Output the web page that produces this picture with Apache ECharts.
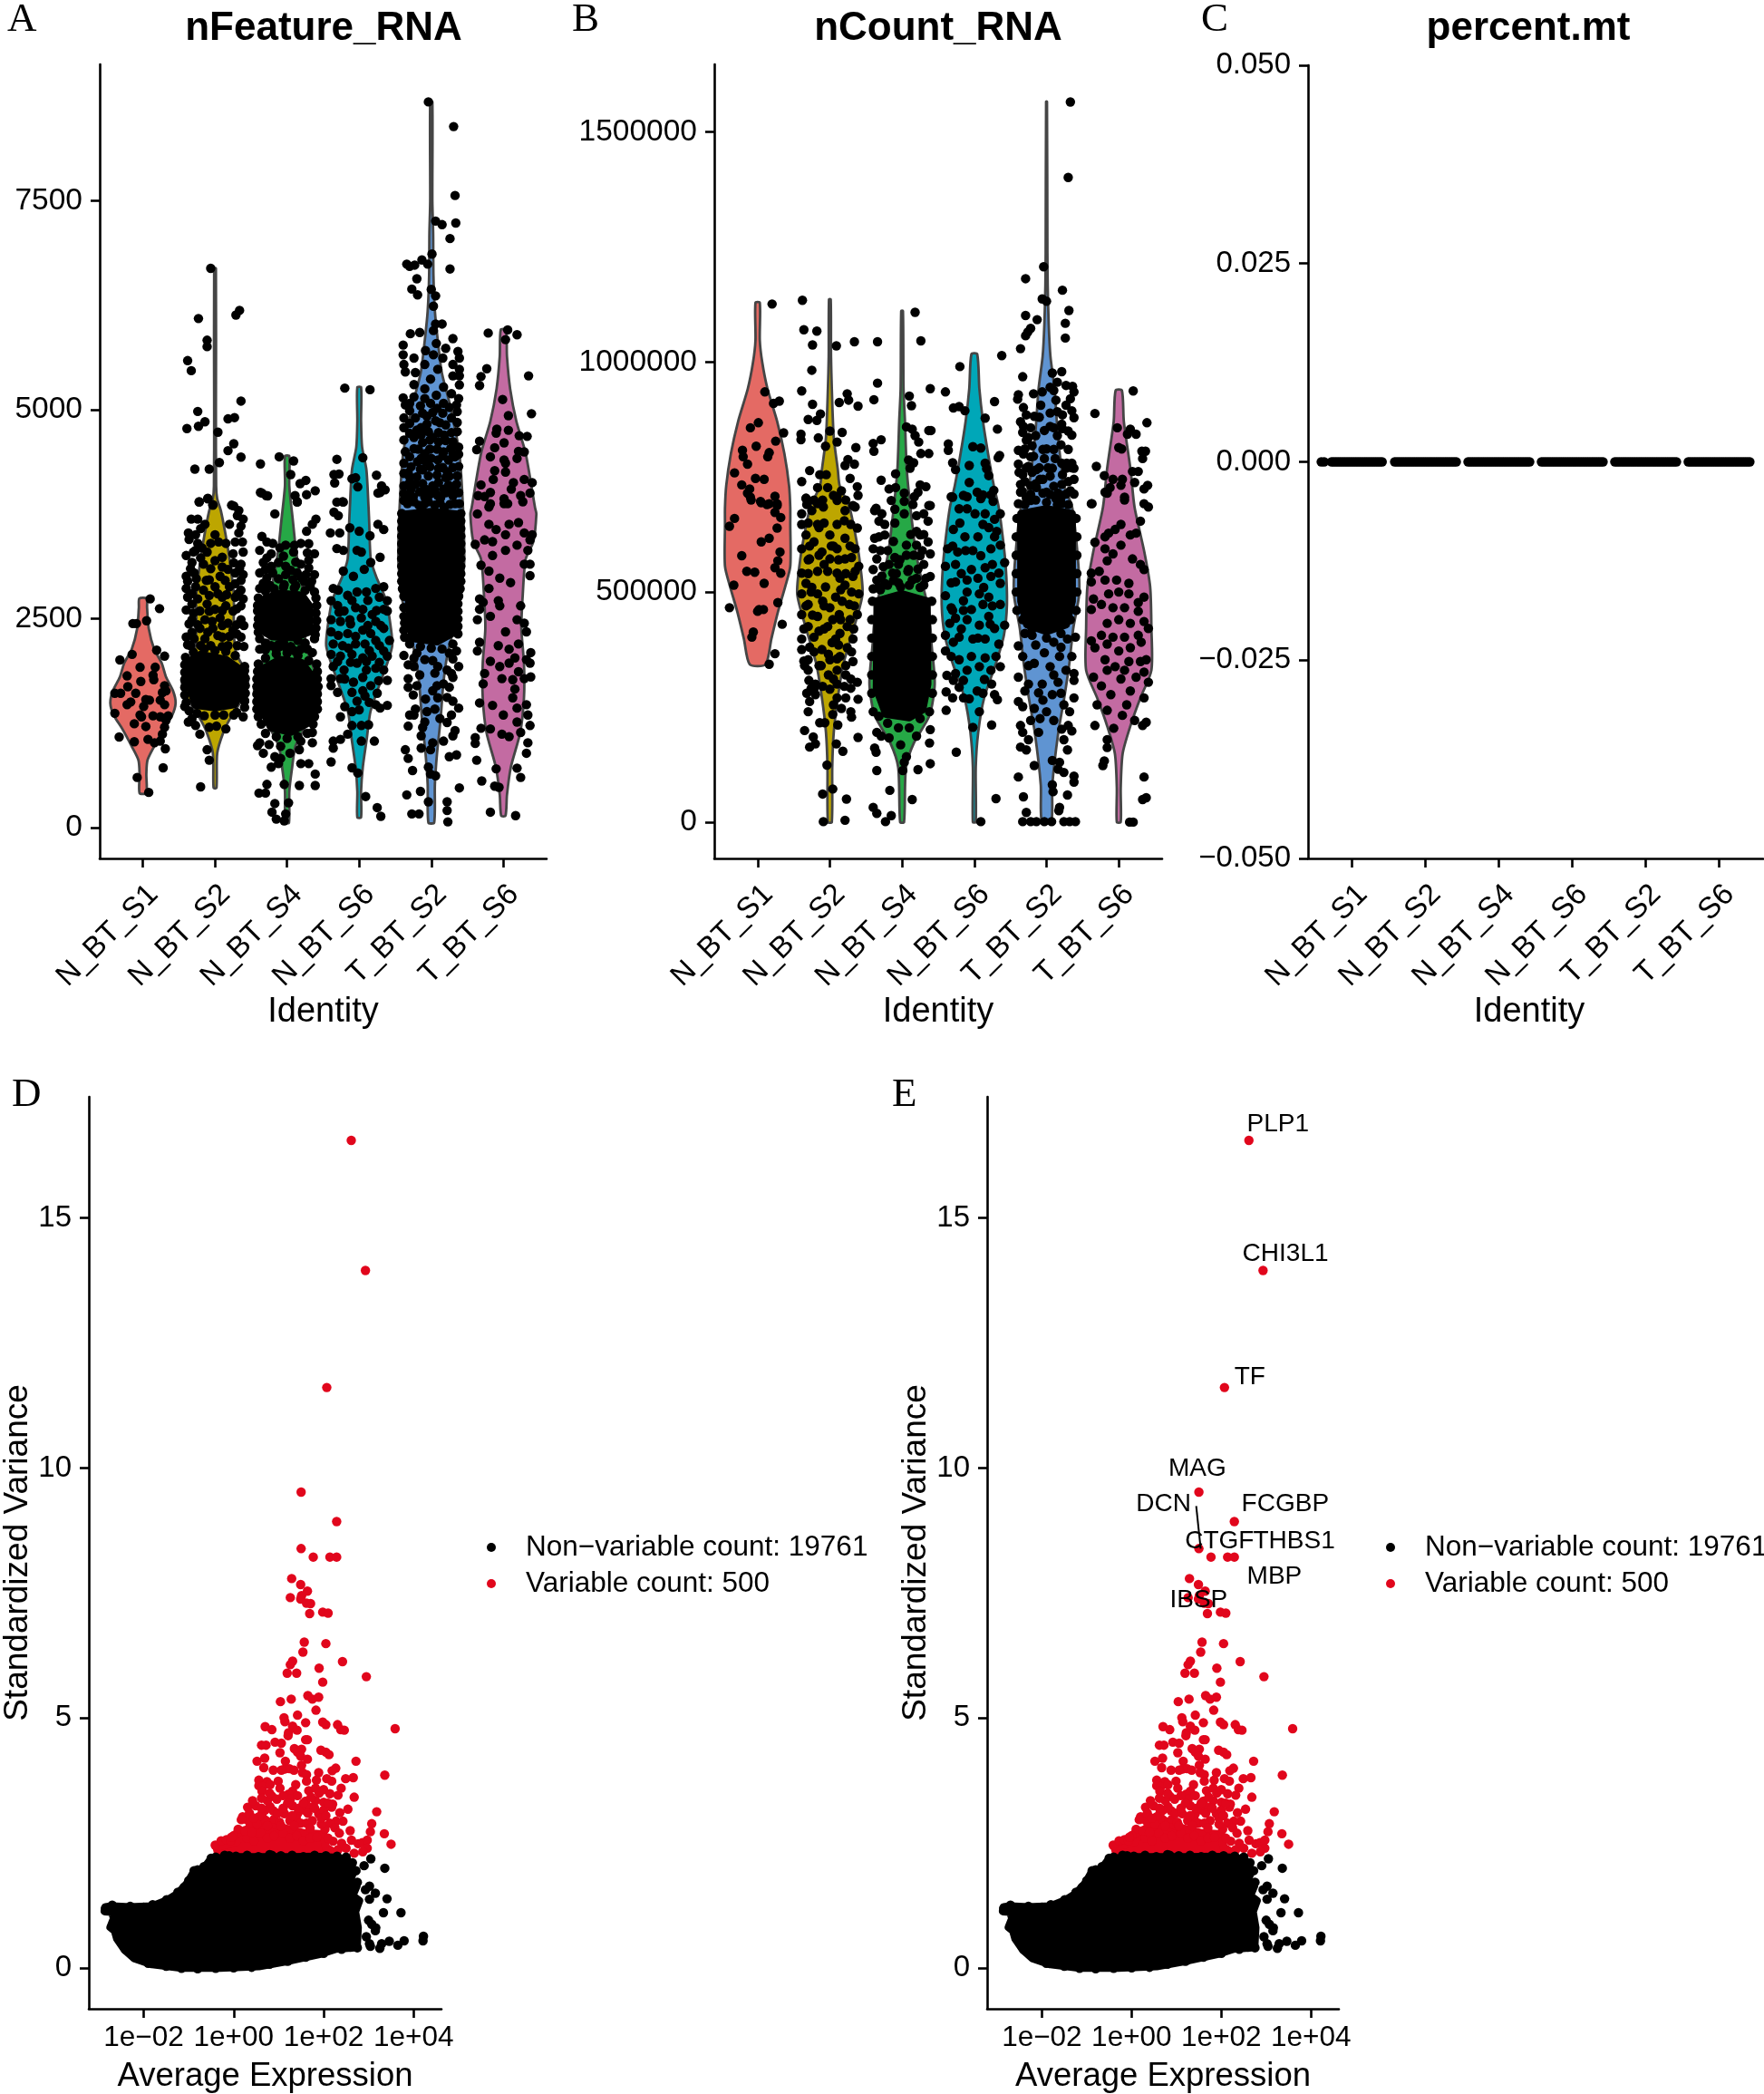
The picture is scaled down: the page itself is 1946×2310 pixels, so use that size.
<!DOCTYPE html>
<html><head><meta charset="utf-8">
<style>html,body{margin:0;padding:0;background:#fff}#c{width:1946px;height:2310px}</style>
<script src="https://cdn.jsdelivr.net/npm/echarts@6/dist/echarts.min.js"></script>
</head><body><div id="c"></div>
<script>
const categories=['N_BT_S1','N_BT_S2','N_BT_S4','N_BT_S6','T_BT_S2','T_BT_S6'];
const violinColors=['#E46A64','#BDA600','#26A846','#00A7B8','#5F94D2','#C36BA2'];
const ticksFeature=[0,2500,5000,7500];
const ticksCount=[0,500000,1000000,1500000];
const ticksMt=[-0.05,-0.025,0,0.025,0.05];
const ticksVar=[0,5,10,15];
const ticksLogExpr=[-2,0,2,4];

// violin outlines, top to bottom: [value, half width in category units]
const vA1=[[2743,.05],[2636,.057],[2386,.08],[2137,.156],[1971,.26],[1805,.32],[1639,.417],[1494,.453],[1349,.406],[1183,.286],[975,.156],[809,.0625],[643,.047],[415,.047]];
const vA2=[[6694,.012],[5000,.012],[4090,.015],[3936,.03],[3797,.08],[3507,.146],[3216,.2],[2801,.26],[2386,.26],[2096,.29],[1847,.44],[1722,.458],[1556,.39],[1307,.21],[1141,.115],[892,.03],[477,.02]];
const vA3=[[4447,.03],[4091,.03],[3673,.08],[3382,.115],[3133,.156],[2884,.21],[2594,.23],[2179,.26],[1930,.36],[1681,.458],[1473,.42],[1224,.26],[975,.115],[726,.07],[436,.03],[62,.026]];
const vA4=[[5269,.026],[4866,.026],[4556,.04],[4285,.1],[3827,.13],[3631,.14],[3216,.16],[3009,.234],[2718,.375],[2386,.44],[2179,.458],[1971,.39],[1722,.286],[1390,.156],[1058,.104],[726,.05],[436,.026],[125,.026]];
const vA5=[[8686,.015],[7500,.015],[7113,.026],[6609,.03],[6183,.05],[5834,.09],[5447,.146],[5059,.26],[4478,.39],[3827,.44],[3216,.458],[3009,.44],[2760,.41],[2386,.31],[2054,.22],[1722,.167],[1307,.13],[892,.08],[519,.05],[62,.04]];
const vA6=[[5958,.036],[5640,.05],[5253,.094],[4866,.18],[4478,.31],[3827,.44],[3756,.458],[3424,.417],[3216,.31],[2801,.27],[2386,.25],[1971,.286],[1556,.286],[1141,.234],[726,.104],[394,.05],[145,.03]];
// nCount violins, values in thousands
const vB1=[[1129,.03],[1047,.03],[998,.065],[942,.136],[871,.27],[801,.37],[731,.435],[683,.452],[647,.452],[556,.452],[511,.38],[458,.283],[398,.19],[343,.11]];
const vB2=[[1136,.012],[1012,.016],[942,.027],[836,.054],[766,.11],[731,.136],[685,.27],[624,.354],[571,.41],[496,.452],[421,.33],[345,.19],[270,.11],[195,.054],[119,.033],[0,.027]];
const vB3=[[1111,.012],[942,.02],[871,.04],[766,.065],[677,.12],[587,.19],[526,.27],[458,.37],[383,.41],[300,.452],[232,.38],[172,.163],[119,.054],[0,.027]];
const vB4=[[1017,.04],[942,.07],[871,.12],[801,.19],[731,.27],[685,.337],[624,.39],[556,.435],[473,.452],[406,.41],[345,.3],[270,.136],[195,.054],[119,.02],[0,.02]];
const vB5=[[1566,.006],[1237,.012],[1167,.016],[1082,.03],[1012,.054],[942,.11],[836,.16],[731,.245],[685,.354],[571,.435],[496,.452],[421,.37],[345,.316],[270,.245],[195,.163],[81,.08],[0,.065]];
const vB6=[[938,.044],[871,.07],[766,.163],[685,.218],[587,.354],[511,.435],[421,.452],[330,.452],[270,.3],[210,.163],[149,.054],[74,.027],[0,.027]];

// jittered cells: [offset from category centre, value]
const jA1=[[.10,2739],[.23,2623],[-.14,2444],[-.09,2444],[.05,2478],[.19,2125],[.30,2054],[-.32,2009],[-.15,2075],[-.04,1921],[.17,1921],[-.22,1818],[.14,1826],[.15,1772],[-.03,1751],[-.21,1689],[.30,1701],[-.39,1610],[-.31,1610],[-.10,1610],[.27,1618],[.32,1639],[.04,1535],[.09,1527],[-.17,1506],[-.22,1473],[.24,1527],[.01,1452],[.30,1473],[-.39,1370],[-.04,1349],[-.02,1328],[.14,1340],[.24,1328],[.35,1340],[.32,1287],[-.12,1245],[.04,1212],[.30,1203],[.27,1120],[-.33,1087],[-.12,1029],[.07,1058],[.16,1017],[.24,1037],[.31,946],[.28,718],[-.08,602],[.08,423]];
const jA2=[[-.06,6694],[-.23,6094],[.29,6136],[.34,6191],[-.11,5834],[-.11,5757],[-.38,5590],[-.33,5470],[.36,5106],[-.24,4982],[-.39,4777],[-.23,4804],[-.14,4858],[.18,4893],[.27,4908],[.04,4734],[.26,4595],[.18,4513],[.36,4436],[.06,4370],[-.28,4292],[-.08,4292],[-.10,3936],[-.22,3897],[-.03,3866],[.26,3851],[-.22,3901],[-.10,3942],[-.03,3860],[.23,3860],[.33,3797],[.31,3735],[.39,3694],[-.33,3694],[-.24,3694],[-.14,3631],[.20,3631],[.36,3610],[-.37,3528],[-.27,3507],[0,3507],[.33,3528],[-.24,3403],[-.06,3403],[.15,3403],[.39,3299],[-.40,3258],[-.27,3320],[-.11,3299],[.25,3279],[.10,3237],[.36,3154],[-.32,3175],[-.16,3154],[0,3196],[-.40,3009],[-.29,3050],[.18,3092],[.28,3050],[.39,3030],[-.08,2967],[.07,3009],[-.40,2864],[-.27,2884],[-.16,2843],[0,2884],[.20,2884],[.36,2843],[-.38,2760],[-.24,2739],[.10,2760],[.28,2760],[.39,2739],[-.32,2677],[-.11,2677],[.15,2656],[.36,2656],[-.40,2606],[-.21,2594],[0,2614],[.25,2594],[-.32,2490],[-.14,2490],[.07,2511],[.18,2448],[.36,2490],[-.21,2386],[-.03,2386],[.25,2365],[-.40,2282],[-.29,2262],[-.14,2262],[.10,2282],[.36,2282],[-.34,2179],[-.06,2179],[.18,2179],[.31,2179],[-.37,1266],[-.27,1224],[-.21,1120],[-.08,1203],[.02,1216],[.15,1183],[.26,1349],[.39,1328],[-.11,934],[-.08,809],[-.20,490],[-.32,1307],[-.42,1452],[.41,1515],[-.40,1971],[.41,1930]];
const xA2=[[-.36,3450],[-.2,3580],[-.3,3300],[-.18,3350],[.05,3420],[.28,3420],[.38,3420],[-.34,3100],[-.2,3230],[-.06,3100],[.1,3120],[.26,3170],[.34,3100],[-.38,2950],[-.26,2980],[-.12,2960],[.14,2960],[.28,2920],[.36,2960],[-.32,2800],[-.08,2780],[.04,2800],[.16,2790],[.32,2800],[-.3,2570],[-.08,2590],[.1,2600],[.3,2620],[-.36,2440],[-.24,2430],[-.04,2470],[.1,2420],[.3,2430],[.4,2420],[-.32,2340],[-.1,2340],[.04,2300],[.2,2290],[.3,2320],[-.38,2190],[-.2,2180],[.1,2170],[.4,2170],[-.41,2040],[-.42,1950],[-.42,1860],[-.42,1770],[-.42,1680],[-.42,1590],[-.4,1500],[.41,1880],[.42,1790],[.42,1700],[.42,1610],[.41,1520],[.41,1440],[-.36,1400],[-.25,1370],[-.15,1340],[0,1350],[.12,1350],[.3,1380],[-.3,2100],[-.15,2140],[0,2120],[.15,2110],[.28,2060]];
const jA3=[[-.11,4439],[.09,4389],[-.37,4354],[.05,4227],[.26,4157],[.18,4118],[.39,4033],[-.37,4013],[-.29,3975],[.27,3986],[.11,3975],[.14,3897],[-.35,4005],[-.27,3972],[.14,3901],[-.17,3756],[.40,3694],[.35,3631],[.27,3548],[-.35,3486],[-.20,3403],[-.02,3382],[.19,3403],[-.38,3320],[-.22,3279],[.09,3299],[.38,3279],[-.33,3175],[-.12,3175],[.19,3154],[-.38,3050],[-.20,3050],[-.02,3030],[.38,3030],[-.33,2926],[.24,2946],[-.38,2864],[.38,2822],[-.41,2594],[-.38,2262],[.38,2262],[-.38,2137],[-.22,2179],[.19,2137],[.35,2096],[-.38,1017],[-.25,996],[-.09,975],[.19,1037],[.35,1141],[.35,1017],[-.41,984],[-.33,892],[-.17,851],[.04,892],[.17,934],[-.22,726],[-.12,768],[.19,768],[.30,768],[-.28,519],[-.39,415],[-.30,415],[-.04,519],[.17,506],[.39,643],[.39,506],[-.17,290],[-.21,187],[-.15,104],[-.04,83],[-.02,166],[.02,299],[-.09,830]];
const xA3=[[-.28,3420],[-.1,3350],[.1,3380],[.3,3400],[-.28,3230],[-.05,3250],[.28,3290],[.3,3200],[-.22,3130],[-.02,3130],[.12,3180],[.3,3110],[.05,3080],[-.3,3090],[.14,3050],[.26,3030],[-.28,2990],[-.12,2980],[.08,2970],[.2,2990],[.34,2950],[-.24,2900],[-.04,2910],[.12,2900],[.32,2890],[-.4,2750],[-.41,2660],[-.4,2500],[-.41,2420],[-.4,2340],[.4,2750],[.41,2660],[.4,2570],[.41,2480],[.4,2390],[.39,2310],[-.3,2830],[-.18,2860],[-.05,2880],[.1,2870],[.25,2840],[-.3,2210],[-.12,2190],[.05,2170],[.25,2210],[-.4,1960],[-.41,1870],[-.42,1780],[-.42,1690],[-.42,1600],[-.42,1510],[-.42,1420],[-.4,1330],[-.36,1240],[.41,1960],[.42,1870],[.42,1780],[.43,1690],[.42,1600],[.42,1510],[.42,1420],[.38,1330],[.36,1240],[-.3,2030],[-.15,2080],[0,2090],[.15,2060],[.3,2000],[-.3,1130],[-.15,1090],[0,1070],[.15,1090],[.28,1130],[-.1,2170],[-.3,2130],[-.15,2130],[0,2130],[.1,2120],[.28,2140],[-.05,2220],[.15,2240]];
const jA4=[[-.20,5261],[.15,5242],[-.31,4409],[.05,4428],[.24,4219],[-.35,4227],[-.28,4234],[-.10,4176],[-.05,4188],[-.34,4126],[-.02,4079],[.31,4091],[.29,4013],[.36,4044],[-.31,3897],[-.22,3897],[.26,4005],[-.23,3901],[-.35,3777],[-.29,3735],[.26,3631],[.34,3569],[-.13,3590],[-.40,3528],[-.27,3528],[0,3548],[.15,3494],[-.31,3341],[-.22,3320],[-.03,3320],[.29,3237],[.03,3299],[.16,3175],[-.22,3071],[-.08,3009],[.07,3092],[-.36,2864],[-.29,2843],[-.16,2781],[-.03,2822],[.10,2822],[.23,2864],[.34,2884],[.39,2718],[.34,2614],[-.39,2718],[-.21,2594],[-.05,2635],[.05,2614],[.18,2552],[-.39,2490],[-.26,2469],[-.13,2490],[.03,2511],[.23,2469],[.39,2594],[.05,2365],[-.39,2345],[-.29,2303],[-.16,2324],[.34,2386],[.16,2324],[-.36,2200],[-.23,2179],[-.05,2200],[.08,2200],[.23,2241],[.42,2241],[.34,2116],[-.39,2075],[-.26,2054],[-.10,2075],[.05,2033],[.18,2054],[.39,2054],[-.36,1930],[-.21,1888],[-.03,1971],[.10,1888],[.23,1909],[.34,1888],[-.39,1785],[-.26,1785],[-.08,1743],[.16,1701],[.39,1764],[-.39,1701],[.05,1639],[.08,1577],[-.03,1515],[.23,1473],[.39,1465],[.29,1432],[-.10,1390],[0,1411],[-.26,1328],[.03,1224],[.13,1233],[-.10,1224],[-.36,1037],[-.26,1058],[-.16,1120],[.03,1037],[.21,1037],[-.36,954],[-.39,788],[-.10,718],[-.02,656],[.09,374],[.25,241],[.30,137]];
const xA4=[[-.3,2660],[-.1,2720],[.12,2720],[.28,2760],[-.28,2580],[.24,2600],[-.12,2440],[.12,2420],[.3,2420],[-.05,2290],[.28,2180],[-.15,2150],[.14,2120],[-.3,1990],[-.12,1980],[.1,1990],[.28,1980],[-.2,1780],[.05,1800],[.27,1760],[-.3,1620],[-.1,1620],[.25,1610],[-.2,1450],[.14,1500]];
const jA5=[[-.04,8686],[.31,8391],[.33,7566],[.06,7260],[.15,7217],[.34,7237],[.26,7051],[.01,6865],[-.13,6795],[-.34,6745],[-.30,6718],[-.23,6733],[-.05,6745],[.26,6687],[-.20,6570],[-.27,6446],[0,6442],[-.19,6377],[.06,6365],[.03,6241],[.15,6028],[.06,6028],[.03,5950],[-.29,5912],[-.16,5927],[.30,5854],[-.39,5776],[.07,5796],[.20,5737],[-.08,5710],[.37,5699],[-.39,5660],[.03,5660],[.39,5621],[-.24,5621],[.16,5621],[-.38,5544],[-.09,5544],[.30,5544],[.39,5486],[-.36,5455],[-.22,5447],[.09,5486],[.30,5408],[.39,5408],[-.01,5369],[-.24,5303],[.39,5300],[-.09,5253],[.17,5273],[-.39,5145],[-.24,5156],[-.09,5137],[.07,5176],[.28,5195],[.38,5137],[-.36,5060],[-.01,5079],[.17,5079],[.35,5060],[-.38,4904],[-.22,4904],[-.06,4924],[.28,4904],[-.38,4788],[-.14,4788],[.12,4846],[.28,4730],[-.24,4672],[.02,4672],[.20,4633],[.38,4556],[-.24,4536],[-.09,4478],[.17,4498],[.33,4439],[-.38,4362],[-.19,4381],[.09,4401],[.38,4323],[-.32,4246],[-.12,4284],[.25,4207],[-.38,4091],[-.22,4110],[.02,4091],[.17,4052],[.35,4110],[-.30,3975],[-.09,3955],[.09,3975],[.30,3975],[-.38,3917],[-.17,3859],[.39,3878],[-.38,2635],[-.38,2531],[-.38,2365],[-.38,2062],[-.32,1950],[-.32,1785],[-.24,1930],[-.09,2013],[.09,1930],[.22,1888],[.38,1930],[.35,2116],[.28,1847],[.17,1722],[-.32,1681],[.02,1639],[.25,1681],[.09,1556],[.30,1515],[.38,1432],[-.30,1349],[-.24,1349],[-.06,1390],[.12,1307],[-.32,1216],[-.09,1266],[-.14,1100],[.02,1017],[.17,1037],[.30,1100],[.33,1162],[-.36,934],[-.32,830],[-.14,954],[-.01,934],[.25,851],[.35,872],[-.26,685],[-.04,726],[-.01,643],[.06,622],[.39,477],[-.34,394],[-.15,436],[-.04,311],[.22,311],[.22,207],[-.27,166],[-.17,166],[.23,71]];
const xA5=[[-.3,5080],[-.15,5050],[.08,5020],[.25,5030],[-.3,4990],[-.12,4960],[.02,4970],[.16,4960],[.36,4980],[-.3,4840],[-.06,4830],[.06,4870],[.2,4820],[.36,4850],[-.3,4720],[-.2,4760],[-.04,4740],[.1,4730],[.36,4740],[-.38,4640],[-.12,4610],[.1,4620],[.3,4620],[-.36,4500],[-.02,4530],[.27,4540],[.38,4470],[-.3,4440],[-.14,4420],[0,4420],[.24,4400],[-.28,4320],[-.02,4320],[.16,4310],[.3,4310],[-.38,4240],[-.2,4200],[-.04,4210],[.08,4220],[.36,4210],[-.3,4130],[-.12,4120],[.1,4130],[.24,4100],[-.38,4000],[-.16,4020],[.2,4010],[.38,4010],[-.24,3900],[-.04,3900],[.12,3890],[.26,3870],[-.41,3760],[-.41,3670],[-.41,3580],[-.41,3490],[-.41,3400],[-.41,3310],[-.41,3220],[-.41,3130],[-.41,3040],[-.41,2950],[-.4,2860],[-.38,2770],[.41,3760],[.41,3670],[.41,3580],[.41,3490],[.41,3400],[.41,3310],[.41,3220],[.41,3130],[.41,3040],[.41,2950],[.4,2860],[.38,2770],[.37,2680],[.37,2590],[.37,2500],[.37,2410],[.37,2320],[-.37,2450],[-.37,2280],[-.3,2200],[-.15,2170],[0,2150],[.15,2140],[.3,2200],[-.2,2090],[.25,2090],[-.24,2030],[.02,2000],[.3,2020],[-.16,1830],[.05,1850],[.3,1800],[-.2,1700],[.08,1700],[-.25,1590],[-.08,1540],[.22,1560],[-.22,1420],[.05,1420],[.28,1350],[-.12,1200],[.22,1260],[-.33,3880],[-.1,3870],[.05,3860],[.33,3880],[-.25,3960],[-.02,3990],[.13,3950],[.28,4060],[-.15,3850],[.18,3830],[-.28,4050],[-.08,4050],[.05,4040],[.2,4190],[-.15,4290],[.1,4300],[.22,4260],[-.3,4200],[-.08,4380],[.16,4450],[-.18,4530],[.08,4530],[.3,4480],[-.02,4640],[.18,4700],[-.14,4700]];
const jA6=[[-.21,5920],[.06,5958],[.19,5900],[.03,5842],[-.23,5493],[.35,5408],[-.31,5400],[-.33,5292],[-.01,5125],[.39,4955],[.07,4932],[-.09,4769],[-.10,4722],[.07,4757],[.22,4692],[.33,4684],[.01,4606],[-.33,4626],[-.37,4525],[-.12,4548],[.21,4505],[.29,4498],[-.18,4439],[.19,4420],[.01,4401],[.03,4362],[-.12,4273],[.03,4257],[.29,4168],[-.14,4168],[-.31,4103],[.40,4130],[.14,4130],[-.18,4013],[.11,4052],[-.35,3975],[.01,3936],[.24,3975],[.06,3878],[-.18,3878],[-.36,3756],[-.20,3839],[.01,3880],[.27,3901],[.37,4005],[-.26,3963],[-.20,3631],[.08,3631],[.21,3652],[-.10,3569],[.03,3507],[.29,3528],[.40,3507],[-.26,3445],[-.39,3391],[-.15,3424],[.03,3320],[.19,3382],[.34,3320],[.37,3445],[-.15,3258],[.29,3154],[.37,3154],[-.31,3142],[.37,3017],[-.20,3071],[-.05,2988],[.10,2934],[-.20,2864],[-.33,2739],[-.28,2698],[-.07,2718],[.24,2656],[-.05,2656],[-.33,2614],[-.18,2531],[-.36,2490],[.29,2448],[.19,2490],[.03,2345],[.32,2345],[-.33,2220],[-.07,2179],[.08,2137],[.21,2200],[-.36,2116],[.38,2096],[.16,2033],[-.18,1992],[.32,2013],[-.05,1930],[.08,1971],[.21,1867],[.37,1971],[-.26,1847],[-.02,1785],[.13,1772],[.29,1785],[.38,1805],[-.28,1722],[.16,1660],[.13,1556],[-.33,1494],[-.15,1465],[.19,1432],[.32,1473],[.34,1349],[0,1349],[.19,1266],[.37,1224],[-.31,1191],[-.18,1183],[.24,1141],[-.39,1079],[-.02,1120],[.08,1091],[-.39,1009],[.34,1017],[.32,892],[-.37,809],[-.10,706],[.19,714],[.24,602],[-.30,560],[-.12,498],[-.06,485],[-.18,187],[.17,145]];
// values in thousands
const jB1=[[.20,1126],[.10,935],[.22,910],[.30,915],[.01,868],[-.10,857],[.36,846],[.25,828],[-.02,817],[.16,803],[-.21,808],[-.20,794],[-.14,778],[.14,794],[-.32,759],[-.03,747],[.09,745],[-.22,733],[-.11,724],[-.10,706],[.24,708],[.04,697],[.13,690],[.27,692],[-.14,715],[-.09,700],[.05,694],[.27,688],[.16,692],[.24,673],[.32,662],[-.32,660],[-.39,643],[.27,639],[.16,617],[.05,609],[.31,587],[-.22,579],[.28,568],[.24,553],[.32,541],[-.15,545],[-.04,543],[.09,519],[-.33,515],[.28,477],[-.39,466],[.02,462],[.08,462],[0,458],[.34,430],[-.06,413],[-.08,402],[.24,366],[.16,343]];
const jB2=[[-.38,1134],[-.36,1070],[-.18,1067],[-.24,1037],[.09,1035],[.34,1044],[-.25,982],[-.39,937],[.24,931],[.26,917],[.13,912],[.39,904],[-.24,908],[-.13,887],[-.30,875],[-.18,873],[0,850],[.17,847],[-.40,843],[-.40,831],[-.16,835],[.10,826],[-.06,817],[.36,814],[.25,788],[.21,775],[.34,778],[-.28,764],[-.14,755],[-.05,755],[.28,747],[-.39,740],[.38,729],[-.17,727],[-.03,727],[.16,720],[.39,710],[-.33,704],[.05,710],[-.17,692],[.32,688],[.10,699],[-.33,703],[-.22,700],[.10,707],[-.39,670],[-.25,677],[-.09,685],[.21,677],[.35,685],[-.39,647],[-.17,647],[.10,647],[.29,647],[.38,639],[-.33,624],[-.22,609],[0,624],[.21,617],[-.39,594],[-.11,587],[.10,594],[.35,594],[-.28,572],[0,572],[.21,572],[.40,556],[-.39,541],[-.17,545],[.10,541],[.32,534],[-.33,519],[-.06,511],[.21,515],[-.39,496],[-.17,496],[.40,496],[.08,489],[-.30,473],[0,466],[.27,473],[-.39,451],[-.17,447],[.13,451],[.38,451],[-.30,425],[-.03,425],[.24,425],[-.39,398],[-.22,402],[.08,398],[.32,398],[-.39,375],[-.11,375],[.24,379],[-.30,353],[0,353],[.32,349],[-.30,330],[.10,330],[-.29,308],[.05,311],[.29,311],[.38,304],[-.22,289],[0,289],[.29,291],[.10,270],[-.28,262],[.39,267],[-.20,277],[.16,247],[.29,240],[.04,234],[.30,228],[-.14,216],[-.07,216],[.11,211],[-.35,199],[-.23,185],[.39,184],[-.28,163],[-.20,170],[.09,170],[.18,154],[-.04,124],[-.10,61],[.04,72],[.23,50],[-.09,1],[.21,4]];
const xB2=[[-.15,640],[.05,600],[-.08,560],[.14,530],[-.25,510],[-.1,480],[.15,440],[-.08,420],[.03,390],[-.22,370],[.14,360],[-.15,340],[.22,340],[-.02,320],[-.2,300],[-.32,690],[-.1,700],[.22,700],[-.3,650],[-.08,650],[.2,655],[-.28,600],[.02,600],[.28,600],[-.3,570],[-.15,580],[.12,570],[.3,575],[-.3,540],[-.03,545],[.22,540],[.35,545],[-.26,500],[.15,505],[.3,500],[-.33,470],[-.08,470],[.17,480],[.34,470],[-.24,450],[.04,440],[.28,440],[-.36,420],[-.15,415],[.14,410],[.33,420],[-.28,380],[-.02,365],[.12,385],[.3,370],[-.36,350],[-.12,340],[.1,355],[.22,320],[-.35,340],[-.26,290],[-.1,295],[.1,300],[.2,295],[-.32,280],[-.3,240],[.05,255],[.22,270]];
const jB3=[[.18,1108],[.26,1046],[-.34,1044],[-.34,954],[.39,942],[.10,926],[-.39,918],[.13,905],[.06,859],[.14,854],[.37,851],[.40,851],[.18,840],[-.40,823],[-.29,831],[.23,826],[-.39,806],[.26,801],[.37,801],[.09,787],[.16,781],[.11,769],[-.09,757],[-.29,743],[-.18,724],[-.09,727],[.25,733],[.33,729],[.22,717],[-.15,699],[.03,697],[-.36,682],[.37,688],[.39,688],[.03,715],[.17,707],[.30,670],[.03,670],[.20,666],[-.38,677],[-.32,654],[-.24,647],[.36,654],[.20,632],[.25,624],[-.38,617],[-.24,624],[.06,602],[.36,609],[.20,602],[-.40,594],[.39,583],[.25,579],[-.35,572],[-.10,575],[-.40,549],[-.18,560],[.09,549],[.30,560],[-.35,526],[-.13,541],[.14,526],[.39,534],[-.24,519],[-.40,507],[-.02,511],[.30,515],[.39,201],[-.35,195],[-.29,187],[-.18,183],[.20,187],[.38,172],[-.02,168],[-.38,161],[-.36,152],[.06,142],[.39,127],[.03,130],[.01,112],[-.35,112],[.22,114],[-.17,69],[.14,49],[-.40,32],[-.35,19],[-.15,14],[-.23,1]];
const xB3=[[-.41,480],[-.42,440],[-.42,400],[-.42,360],[-.42,320],[-.42,280],[-.4,240],[.41,480],[.42,440],[.42,400],[.42,360],[.42,320],[.42,280],[.38,240],[-.3,505],[-.2,515],[-.05,520],[.1,515],[.25,510],[-.32,230],[-.2,215],[-.05,205],[.1,205],[.25,225],[-.3,590],[-.12,610],[.12,625],[-.28,670],[-.1,680],[.15,690],[-.32,620],[.3,625],[-.26,555],[-.08,540],[.2,530],[-.1,650],[.16,580],[-.03,570],[-.33,510],[.33,530],[-.12,525],[.08,545],[.22,550],[-.28,535],[-.05,560],[-.2,590],[.06,580],[.28,590]];
const jB4=[[.38,1014],[-.20,990],[-.40,935],[.28,914],[-.29,900],[-.21,903],[-.13,894],[.15,878],[.32,854],[-.36,822],[-.36,808],[-.02,816],[.09,813],[.35,797],[.33,792],[-.30,781],[-.26,766],[-.07,775],[.15,780],[.17,768],[.20,753],[-.07,738],[.27,721],[.04,717],[-.15,710],[-.30,706],[.09,703],[.26,697],[-.10,707],[-.32,707],[.12,711],[.23,711],[-.21,681],[-.10,681],[.36,670],[.28,658],[.01,670],[.15,670],[.31,632],[.12,647],[-.29,636],[-.12,590],[-.37,594],[-.23,587],[-.02,590],[.09,579],[.36,602],[.23,594],[-.40,556],[-.26,560],[-.04,549],[.15,553],[.34,541],[.42,564],[-.26,522],[-.10,526],[.23,534],[.36,519],[-.40,492],[-.15,481],[.07,496],[.20,489],[-.32,466],[-.04,462],[.12,473],[.36,473],[-.26,443],[-.10,440],[.20,447],[.42,428],[-.34,432],[.07,428],[.28,421],[-.40,406],[-.21,402],[-.02,398],[.15,398],[-.29,391],[.34,387],[-.40,372],[-.21,353],[-.04,360],[.15,357],[.36,338],[.23,330],[.07,338],[-.26,323],[-.38,319],[-.15,308],[-.21,293],[-.29,308],[.04,285],[-.39,283],[-.07,268],[.28,277],[.32,266],[-.39,243],[.07,240],[-.02,206],[.24,211],[-.25,152],[.30,51],[.09,1]];
const xB4=[[-.2,650],[.2,640],[-.3,600],[.28,620],[-.13,620],[.05,620],[-.32,520],[-.18,540],[.05,530],[.25,560],[-.3,460],[-.15,460],[.25,470],[-.18,420],[.22,430],[-.1,500],[.13,510],[-.32,360],[.05,400],[.3,360],[-.1,330],[.14,310],[-.3,270],[.12,280],[.24,300],[-.15,270]];
const jB5=[[.33,1565],[.30,1401],[-.04,1207],[-.29,1181],[.22,1156],[-.06,1137],[0,1132],[.31,1112],[-.29,1101],[-.13,1092],[.26,1084],[-.22,1073],[-.26,1065],[-.29,1057],[.26,1052],[-.36,1029],[.08,976],[.21,979],[-.33,968],[.15,956],[.27,949],[.36,947],[.05,945],[.38,935],[-.18,931],[-.06,935],[.10,938],[-.39,929],[-.40,919],[-.08,906],[.13,917],[-.32,901],[.27,906],[-.28,885],[-.17,882],[.05,889],[.35,894],[.15,892],[.38,879],[-.33,847],[-.22,857],[-.03,851],[.10,857],[.21,865],[.35,841],[-.25,836],[-.39,808],[-.20,818],[0,811],[-.30,811],[-.22,794],[-.03,790],[-.39,778],[.21,780],[.35,780],[.08,769],[-.25,773],[-.14,766],[.27,769],[.38,769],[-.33,755],[.05,752],[.38,745],[-.09,745],[-.36,734],[-.22,731],[.21,734],[-.14,727],[0,717],[-.36,717],[.38,713],[.27,713],[-.22,699],[.13,703],[-.39,692],[.21,692],[-.39,383],[-.20,406],[.10,391],[.29,398],[.40,402],[-.33,360],[-.03,368],[.18,360],[-.39,315],[-.17,345],[.05,338],[.38,323],[.27,330],[-.25,300],[-.06,300],[.16,304],[.38,308],[-.39,262],[-.11,281],[.08,277],[.38,270],[.24,255],[-.33,251],[-.17,247],[0,240],[.32,240],[-.36,210],[-.22,221],[-.09,225],[.10,221],[.21,202],[.35,198],[-.33,195],[-.11,195],[-.25,179],[.24,179],[-.36,163],[-.28,157],[.29,157],[.08,134],[.18,130],[-.17,123],[.16,115],[-.39,98],[.24,108],[.38,100],[.08,81],[.38,87],[.09,66],[.29,59],[-.32,55],[.18,32],[-.28,21],[.17,25],[-.33,1],[-.22,1],[-.14,1],[-.03,1],[.07,1],[.24,1],[.32,1],[.40,1]];
const xB5=[[-.41,660],[-.42,620],[-.42,580],[-.42,540],[-.42,500],[-.41,460],[.41,660],[.42,620],[.42,580],[.42,540],[.42,500],[.41,460],[-.33,440],[.33,440],[-.2,420],[.2,410],[0,400],[-.3,690],[-.15,700],[0,695],[.15,690],[.3,690],[-.3,740],[-.15,735],[.1,730],[.3,740],[-.32,800],[-.1,770],[.12,790],[.3,810],[-.36,870],[-.15,840],[.3,850],[-.1,880],[.22,885],[.33,920],[.05,860],[.2,820],[-.2,760],[-.28,705],[.2,705],[-.3,410],[-.15,385],[.2,380],[.35,360],[-.25,340],[.1,320],[-.3,285],[.2,280],[-.05,265],[.3,210],[-.34,720],[-.22,712],[-.05,715],[.05,712],[.16,715],[.33,720],[-.28,770],[-.05,745],[.22,755],[.35,770],[-.38,760],[-.18,795],[.02,770],[.28,780],[.1,810],[-.28,830],[-.05,810],[.15,840],[-.32,860],[.22,855]];
const jB6=[[.20,937],[-.33,888],[.39,868],[-.02,857],[.16,854],[.12,843],[.24,843],[0,814],[.04,811],[.32,806],[.37,806],[.33,790],[-.31,773],[.19,762],[.27,762],[-.20,753],[-.08,745],[.05,745],[.22,738],[-.12,727],[.03,732],[.40,732],[-.19,717],[.35,724],[.08,706],[-.37,692],[-.38,692],[.35,692],[.41,685],[.08,700],[-.16,715],[.30,654],[.03,647],[-.14,628],[-.05,636],[-.33,608],[-.19,620],[.16,624],[.24,628],[-.19,594],[-.08,583],[.03,602],[.30,560],[.19,572],[-.16,568],[-.38,541],[-.27,545],[.35,549],[-.19,526],[-.03,526],[.14,519],[-.38,522],[-.35,485],[-.14,496],[0,500],[.14,496],[.35,489],[.27,477],[-.24,473],[-.38,462],[-.08,466],[.08,466],[.27,458],[-.16,432],[0,440],[.16,432],[.35,436],[-.38,394],[-.24,406],[-.08,402],[.08,402],[.27,406],[.41,421],[-.33,379],[-.16,387],[0,372],[.16,379],[.31,391],[-.19,353],[-.05,338],[.14,349],[.30,349],[.38,353],[-.35,315],[-.16,330],[.08,330],[.24,315],[.35,326],[.03,311],[.41,304],[-.24,296],[-.11,277],[.16,285],[.35,270],[-.30,255],[.11,255],[-.16,243],[.05,232],[.22,221],[.38,217],[.33,210],[-.33,210],[-.07,204],[-.16,179],[-.16,162],[-.20,133],[-.22,123],[.35,98],[.33,49],[.38,53],[.15,0],[.20,0]];

// regions where so many cells overlap that they read as a solid mass: [offset, value]
const massA2=[[-.33,2000],[-.2,2070],[.15,2010],[.33,1900],[.35,1620],[.27,1480],[0,1440],[-.27,1470],[-.35,1700]];
const massA3a=[[-.32,2730],[-.1,2800],[.2,2780],[.31,2650],[.31,2350],[.1,2280],[-.2,2290],[-.32,2350]];
const massA3b=[[-.33,1900],[-.1,2010],[.2,1970],[.35,1800],[.37,1500],[.27,1250],[.05,1150],[-.22,1200],[-.37,1450]];
const massA5=[[-.35,3750],[0,3780],[.35,3750],[.35,2950],[.29,2650],[.29,2330],[.08,2230],[-.27,2270],[-.3,2650],[-.35,2950]];
const massB3=[[-.34,480],[0,495],[.34,480],[.35,300],[.28,245],[.1,228],[-.22,235],[-.35,290]];
const massB5=[[-.35,670],[0,680],[.35,670],[.35,480],[.27,430],[0,415],[-.27,430],[-.35,480]];

// percent.mt: every cell sits at zero; jitter offsets read along the band
const mtOffsetsFirst=[-.42,-.38,-.28,-.25,-.22,-.19,-.16,-.13,-.1,-.07,-.04,-.01,.02,.05,.08,.11,.14,.17,.2,.23,.26,.29,.32,.35,.38,.41];
const mtOffsets=[-.42,-.39,-.36,-.33,-.3,-.27,-.24,-.21,-.18,-.15,-.12,-.09,-.06,-.03,0,.03,.06,.09,.12,.15,.18,.21,.24,.27,.3,.33,.36,.39,.42];

// variable features: [log10 mean expression, standardized variance]
const redPoints=[[2.615,16.55],[2.93,13.95],[2.07,11.61],[1.50,9.52],[2.29,8.93],[1.50,8.39],[1.77,8.22],[2.14,8.22],[2.29,8.22],[1.29,7.79],[1.49,7.67],[1.64,7.54],[1.26,7.41],[1.51,7.45],[1.49,7.38],[1.62,7.30],[1.71,7.29],[1.69,7.09],[1.98,7.12],[2.10,7.10],[1.57,6.52],[2.05,6.49],[1.54,6.32],[1.31,6.14],[1.26,6.07],[2.42,6.13],[1.90,6.0],[1.19,5.9],[1.40,5.9],[2.95,5.83],[1.98,5.72],[1.65,5.45],[1.75,5.38],[1.89,5.42],[1.04,5.33],[1.28,5.38],[1.83,5.16],[1.42,5.06],[1.12,5.01],[1.14,4.93],[1.60,4.91],[1.98,4.92],[2.05,4.87],[2.31,4.87],[3.59,4.79],[2.38,4.77],[2.46,4.76],[.70,4.83],[.85,4.77],[1.31,4.84],[1.41,4.76],[1.22,4.71],[1.21,4.65],[1.60,4.57],[1.64,4.57],[.92,4.52],[1.06,4.5],[.62,4.46],[.72,4.46],[1.03,4.31],[1.35,4.39],[1.51,4.38],[1.42,4.32],[1.49,4.24],[1.94,4.36],[2.05,4.32],[2.12,4.27],[1.64,4.18],[2.72,4.14],[.52,4.14],[.69,4.2],[.67,4.01],[1.15,4.14],[1.51,4.06],[.88,3.96],[1.13,3.98],[1.24,3.99],[1.34,3.96],[1.06,3.96],[1.89,3.91],[2.27,4.0],[2.19,3.95],[1.53,3.91],[1.62,3.87],[3.36,3.86],[2.49,3.79],[2.66,3.81],[2.07,3.79],[2.18,3.74],[.56,3.76],[.99,3.74],[1.62,3.74],[1.84,3.76],[.74,3.73],[1.38,3.67],[.56,3.65],[.65,3.63],[.81,3.67],[1.03,3.6],[2.39,3.6],[1.67,3.55],[1.82,3.6],[2.0,3.57],[1.31,3.54],[2.14,3.49],[1.22,3.48],[.63,3.54],[2.32,3.46],[.85,3.44],[2.68,3.42],[.96,3.38],[1.26,3.38],[1.60,3.34],[1.82,3.35],[2.0,3.32],[2.2,3.28],[3.18,3.13],[3.07,2.89],[3.04,2.73],[3.35,2.69],[2.59,2.75],[2.62,2.56],[2.77,2.49],[2.86,2.51],[2.97,2.56],[3.5,2.48],[2.97,2.40],[2.87,2.33],[2.68,2.30],[2.54,3.18],[2.36,3.11],[2.43,2.94],[2.28,2.94],[2.14,2.9],[2.25,2.81],[2.03,2.78],[2.21,2.54],[2.32,2.37],[2.18,3.22],[.31,3.22],[.49,3.25],[.2,3.03],[.27,2.98],[.17,2.97],[.81,3.23],[.7,3.16],[1.13,3.09],[1.42,3.09],[1.39,3.0],[1.49,2.9],[1.75,2.95],[1.57,3.16],[1.89,3.09],[2,3.16],[1.71,3.22],[1.31,3.25],[.63,3.09],[.56,3.03],[-.41,2.46],[-.28,2.55],[-.16,2.57],[-.07,2.55],[.08,2.7],[.1,2.78],[.36,2.9],[.52,2.88],[.9,2.98],[1.02,2.92],[1.25,2.95],[1.62,2.9],[1.95,2.88],[2.1,2.6],[2.4,2.5],[2.5,2.4],[2.35,2.7],[.3,2.6],[.45,2.55],[.6,2.7],[.75,2.6],[.9,2.65],[1.1,2.7],[1.25,2.6],[1.4,2.65],[1.55,2.55],[1.7,2.6],[1.85,2.62],[.35,3.1],[.45,3.0],[.62,3.2],[.75,3.35],[.88,3.15],[.98,3.1],[1.1,3.2],[1.2,3.3],[1.3,3.05],[1.45,3.2],[1.55,3.3],[1.65,3.1],[1.8,3.2],[1.95,3.0],[2.05,3.05],[2.1,3.3],[.42,3.35],[.62,3.4],[.8,3.5],[1.1,3.45],[1.42,3.45],[1.72,3.42],[1.9,3.5],[.75,2.85],[1.05,2.85],[1.35,2.85],[1.7,2.8],[0,2.65],[-.05,2.62],[.25,2.75],[.4,2.72]];
// variable-feature mass where points overlap completely
const redMass=[[-.38,2.42],[-.16,2.47],[.06,2.52],[.2,2.7],[.4,2.85],[.67,3.0],[.82,2.9],[1.13,2.8],[1.57,2.7],[2,2.68],[2.05,2.42],[2.26,2.3],[2.21,2.14],[-.3,2.14]];
// non-variable features: outline of the fully overplotted cloud, and isolated points beyond it
const blackMass=[[-2.85,1.22],[-2.71,1.24],[-2.31,1.22],[-1.81,1.24],[-1.49,1.35],[-1.24,1.49],[-1.02,1.71],[-.88,1.93],[-.66,2.0],[-.52,2.16],[-.16,2.22],[.56,2.22],[1.28,2.22],[1.82,2.23],[2.21,2.21],[2.5,2.18],[2.61,2.08],[2.66,1.92],[2.57,1.73],[2.73,1.64],[2.64,1.45],[2.79,1.35],[2.7,1.13],[2.76,.81],[2.74,.49],[2.74,.42],[2.28,.39],[1.93,.29],[1.28,.16],[.56,.04],[-.3,.01],[-1.16,.01],[-1.81,.08],[-2.21,.2],[-2.42,.37],[-2.59,.59],[-2.64,.75],[-2.74,.82],[-2.66,1.0],[-2.71,1.13],[-2.87,1.14]];
const blackPoints=[[3.05,2.19],[2.9,2.05],[3.36,2.0],[2.75,1.72],[3.02,1.64],[2.93,1.57],[3.15,1.5],[3.02,1.38],[3.41,1.39],[3.33,1.11],[3.72,1.11],[3.0,.96],[3.07,.88],[3.16,.81],[3.15,.75],[2.95,.63],[3.02,.49],[3.04,.44],[3.25,.40],[3.29,.49],[3.46,.54],[3.65,.46],[3.79,.55],[4.22,.64],[4.21,.55],[2.75,.41],[2.72,1.95],[2.64,2.11],[2.75,1.35],[-2.85,1.2],[-2.6,.87],[-2.55,.7],[-.8,1.97],[-.5,2.2],[-.1,2.25],[.85,2.26],[1.8,2.26],[-1.1,1.62],[-2.0,1.22],[2.6,.42],[-.4,2.22],[-.2,2.26],[.05,2.24],[.3,2.26],[.55,2.23],[.8,2.27],[1.05,2.25],[1.3,2.26],[1.55,2.23],[2.05,2.25],[2.3,2.24],[2.5,2.22],[-.66,2.03],[-.88,1.95],[-1.0,1.75],[-1.24,1.52],[-1.49,1.37],[-1.8,1.27],[-2.3,1.24],[-2.7,1.26],[-2.4,.37],[-2.2,.22],[-1.9,.1],[-1.5,.04],[-1.16,0],[-.8,-.01],[-.4,0],[0,.01],[.4,.02],[.8,.08],[1.2,.14],[1.6,.22],[2.0,.3],[2.4,.38]];
// labelled genes in panel E: [log10 mean, variance level of the label, name]
const geneLabels=[[2.56,16.88,'PLP1'],[2.46,14.28,'CHI3L1'],[2.28,11.81,'TF'],[.81,9.99,'MAG'],[.09,9.27,'DCN'],[2.44,9.27,'FCGBP'],[1.18,8.54,'CTGF'],[2.70,8.54,'THBS1'],[2.56,7.82,'MBP'],[.84,7.35,'IBSP']];
const leaderDCN=[[1.44,9.24],[1.54,8.39]];
const legendNames=['Non\u2212variable count: 19761','Variable count: 500'];

const FF='"Liberation Sans",Arial,sans-serif';
const minus=s=>String(s).replace('-','\u2212');
const TXT='#000';
const PT=10.4;
function baseAxis(extra){
  return Object.assign({type:'value',scale:true,splitLine:{show:false},
    axisLine:{show:true,onZero:false,lineStyle:{color:'#000',width:2.6}}},extra);
}
function catXAxis(i,namePad){
  return baseAxis({gridIndex:i,min:.4,max:6.6,position:'bottom',
    axisTick:{show:true,length:10,customValues:[1,2,3,4,5,6],lineStyle:{color:'#000',width:2.6}},
    axisLabel:{customValues:[1,2,3,4,5,6],formatter:v=>categories[Math.round(v)-1],rotate:45,align:'right',verticalAlign:'top',margin:23,fontFamily:FF,fontSize:33,color:TXT,hideOverlap:false},
    name:'Identity',nameLocation:'middle',nameGap:145,nameTextStyle:{fontFamily:FF,fontSize:38,color:TXT,padding:[0,namePad||0,0,0]}});
}
function yAxisFor(i,min,max,ticks,fmt,size,extra){
  return baseAxis(Object.assign({gridIndex:i,min,max,position:'left',
    axisTick:{show:true,length:10,customValues:ticks,lineStyle:{color:'#000',width:2.6}},
    axisLabel:{customValues:ticks,formatter:fmt,margin:19,padding:[6,0,0,0],fontFamily:FF,fontSize:size,color:TXT,hideOverlap:false}},extra||{}));
}
function logXAxis(i){
  return baseAxis({gridIndex:i,min:-3.22,max:4.62,position:'bottom',
    axisTick:{show:true,length:10,customValues:ticksLogExpr,lineStyle:{color:'#000',width:2.6}},
    axisLabel:{customValues:ticksLogExpr,formatter:v=>'1e'+(v<0?'\u2212':'+')+String(Math.abs(v)).padStart(2,'0'),margin:16,fontFamily:FF,fontSize:31.5,color:TXT,hideOverlap:false},
    name:'Average Expression',nameLocation:'middle',nameGap:56,nameTextStyle:{fontFamily:FF,fontSize:36.5,color:TXT}});
}
const grids=[
 {left:110,top:71,width:493,height:876},
 {left:788,top:71,width:494,height:876},
 {left:1443,top:72,width:502,height:875},
 {left:98,top:1210,width:389,height:1008},
 {left:1089,top:1210,width:388,height:1008}];
const xAxes=[catXAxis(0),catXAxis(1),catXAxis(2,14),logXAxis(3),logXAxis(4)];
const varY=i=>yAxisFor(i,-.81,17.42,ticksVar,v=>String(v),33,{name:'Standardized Variance',nameLocation:'middle',nameGap:60,nameTextStyle:{fontFamily:FF,fontSize:37,color:TXT}});
const yAxes=[
 yAxisFor(0,-367,9135,ticksFeature,v=>String(v),33.5),
 yAxisFor(1,-79000,1646800,ticksCount,v=>String(v),33.5),
 yAxisFor(2,-.05,.05,ticksMt,v=>minus(v.toFixed(3)),33),
 varY(3),varY(4)];

function violinSeries(g,list,mult){
  return {type:'custom',xAxisIndex:g,yAxisIndex:g,silent:true,z:2,data:list.map((_,i)=>[i]),
    renderItem:(p,api)=>{
      const i=p.dataIndex,rows=list[i],pts=[];
      rows.forEach(r=>pts.push(api.coord([i+1+r[1],r[0]*mult])));
      rows.slice().reverse().forEach(r=>pts.push(api.coord([i+1-r[1],r[0]*mult])));
      return {type:'polygon',shape:{points:pts,smooth:.25},style:{fill:violinColors[i],stroke:'#454545',lineWidth:2.8}};
    }};
}
function massSeries(g,polys,color,z){
  return {type:'custom',xAxisIndex:g,yAxisIndex:g,silent:true,z:z,data:polys.map((_,i)=>[i]),
    renderItem:(p,api)=>({type:'polygon',shape:{points:polys[p.dataIndex].map(c=>api.coord(c))},
      style:{fill:color,stroke:color,lineWidth:9,lineJoin:'round'}})};
}
function cellSeries(g,lists,mult){
  const data=[];
  lists.forEach(([c,l])=>l.forEach(r=>data.push([c+r[0],r[1]*mult])));
  return {type:'scatter',xAxisIndex:g,yAxisIndex:g,silent:true,z:4,symbolSize:PT,itemStyle:{color:'#000',opacity:1},data};
}
const shift=(poly,c,m)=>poly.map(r=>[c+r[0],r[1]*m]);
const mtData=[];
mtOffsetsFirst.forEach(o=>mtData.push([1+o,0]));
[2,3,4,5,6].forEach(c=>mtOffsets.forEach(o=>mtData.push([c+o,0])));

function variableSeries(g){
  return [
   massSeries(g,[redMass],'#E1061C',2),
   {type:'scatter',name:legendNames[1],xAxisIndex:g,yAxisIndex:g,silent:true,z:3,symbolSize:PT,itemStyle:{color:'#E1061C',opacity:1},data:redPoints},
   massSeries(g,[blackMass],'#000',4),
   {type:'scatter',name:legendNames[0],xAxisIndex:g,yAxisIndex:g,silent:true,z:5,symbolSize:PT,itemStyle:{color:'#000',opacity:1},data:blackPoints}
  ];
}
const series=[
 violinSeries(0,[vA1,vA2,vA3,vA4,vA5,vA6],1),
 massSeries(0,[shift(massA2,2,1),shift(massA3a,3,1),shift(massA3b,3,1),shift(massA5,5,1)],'#000',3),
 cellSeries(0,[[1,jA1],[2,jA2],[2,xA2],[3,jA3],[3,xA3],[4,jA4],[4,xA4],[5,jA5],[5,xA5],[6,jA6]],1),
 violinSeries(1,[vB1,vB2,vB3,vB4,vB5,vB6],1000),
 massSeries(1,[shift(massB3,3,1000),shift(massB5,5,1000)],'#000',3),
 cellSeries(1,[[1,jB1],[2,jB2],[2,xB2],[3,jB3],[3,xB3],[4,jB4],[4,xB4],[5,jB5],[5,xB5],[6,jB6]],1000),
 {type:'scatter',xAxisIndex:2,yAxisIndex:2,silent:true,z:4,symbolSize:PT,itemStyle:{color:'#000',opacity:1},data:mtData},
 ...variableSeries(3),
 ...variableSeries(4),
 {type:'line',xAxisIndex:4,yAxisIndex:4,silent:true,z:6,symbol:'none',lineStyle:{color:'#000',width:2},data:leaderDCN},
 {type:'scatter',xAxisIndex:4,yAxisIndex:4,silent:true,z:7,symbolSize:1,itemStyle:{color:'transparent',opacity:1},
  data:geneLabels.map(g=>({value:[g[0],g[1]],name:g[2]})),
  label:{show:true,position:'right',distance:0,opacity:1,formatter:p=>p.name,fontFamily:FF,fontSize:28,color:TXT}}
];
const tt=(text,x)=>({text,left:x,top:5,textAlign:'center',textStyle:{fontFamily:FF,fontSize:44,fontWeight:'bold',color:'#000'}});
const letter=(text,x,top)=>({text,left:x,top,textStyle:{fontFamily:'"Liberation Serif",serif',fontSize:45,fontWeight:'normal',color:TXT}});
const legendFor=(x)=>({data:legendNames,left:x,top:1686,orient:'vertical',icon:'circle',itemWidth:10,itemHeight:10,itemGap:8,selectedMode:false,
  textStyle:{fontFamily:FF,fontSize:31.5,color:TXT,padding:[0,0,0,28]}});
const chart=echarts.init(document.getElementById('c'),null,{renderer:'canvas'});
chart.setOption({animation:false,backgroundColor:'#fff',
 title:[tt('nFeature_RNA',352),tt('nCount_RNA',1030),tt('percent.mt',1681),
  letter('A',3,-5),letter('B',626,-5),letter('C',1320,-5),letter('D',8,1181),letter('E',979,1181)],
 legend:[legendFor(532),legendFor(1524)],
 grid:grids,xAxis:xAxes,yAxis:yAxes,series});
</script></body></html>
